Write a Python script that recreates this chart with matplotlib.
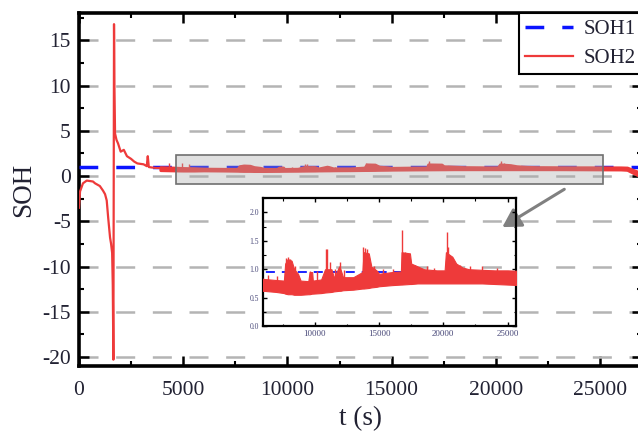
import matplotlib
matplotlib.use("Agg")
import matplotlib.pyplot as plt
from matplotlib.patches import Rectangle
from matplotlib.ticker import MultipleLocator

plt.rcParams['font.family'] = ['Liberation Serif', 'DejaVu Serif']
plt.rcParams['axes.unicode_minus'] = False
plt.rcParams['lines.scale_dashes'] = False

# ---------------- data ----------------
# SOH1: constant reference
soh1_t = [0, 26800]
soh1_v = [0.96, 0.96]

# SOH2 early transient (line)
early_t = [0, 50, 190, 370, 530, 670, 770, 1000, 1150, 1250, 1330, 1400, 1490, 1540, 1590,
           1620, 1650, 1680, 1700, 1730, 1800, 1875, 2000, 2150, 2300, 2500, 2650, 2800, 3100,
           3250, 3300, 3350, 3500, 3700, 3900]
early_v = [-3.5, -1.7, -0.8, -0.5, -0.55, -0.6, -0.8, -1.1, -1.6, -2.0, -2.7, -4.6, -6.8, -7.5, -8.5,
           -12.0, -20.3, 16.8, 10.0, 4.7, 4.0, 3.6, 2.7, 2.9, 2.2, 1.9, 1.6, 1.4, 1.3,
           1.1, 2.2, 1.0, 0.95, 0.9, 0.9]

# SOH2 noisy band (lower / upper envelopes)
band_t = [3900, 4500, 5000, 5500, 6000, 7000, 7600, 7700, 7900, 8200, 8400, 8700, 8900,
          9500, 9600, 9800, 9850, 10500, 10800, 11300, 11500, 11900, 12000, 12200, 13000,
          13700, 13800, 14200, 14400, 14800, 15000, 16000, 16700, 16750, 17400, 17500,
          18000, 18500, 19500, 20100, 20200, 20700, 21000, 21500, 22000, 23000, 24000,
          25000, 26000, 26300, 26800]
band_lo = [0.65, 0.62, 0.6, 0.6, 0.62, 0.6, 0.58, 0.57, 0.56, 0.56, 0.55, 0.55, 0.55,
           0.56, 0.56, 0.57, 0.57, 0.58, 0.59, 0.6, 0.61, 0.62, 0.62, 0.63, 0.64,
           0.66, 0.66, 0.67, 0.68, 0.69, 0.7, 0.72, 0.73, 0.73, 0.74, 0.74,
           0.75, 0.75, 0.75, 0.75, 0.75, 0.75, 0.75, 0.75, 0.75, 0.75, 0.74,
           0.73, 0.72, 0.68, 0.1]
band_hi = [1.0, 0.95, 0.9, 0.88, 0.83, 0.81, 0.8, 1.1, 1.18, 1.15, 1.0, 0.92, 0.8,
           0.79, 0.95, 0.95, 0.8, 0.82, 1.0, 1.0, 0.85, 1.05, 1.0, 0.86, 0.86,
           0.95, 1.3, 1.28, 1.05, 0.98, 0.92, 0.95, 0.96, 1.3, 1.28, 1.1,
           1.05, 1.0, 0.98, 0.98, 1.3, 1.22, 1.1, 1.03, 1.0, 0.99, 0.98,
           0.98, 0.97, 0.95, 0.5]

# SOH2 sharp spikes
spike_t = [4300, 4950, 5300, 6400, 7100, 7750, 7950, 8100, 8500, 9650, 10200, 10850, 10950,
           11200, 11600, 11950, 12300, 13750, 13900, 14050, 14600, 15300, 16100, 16800,
           17000, 17800, 18700, 19300, 20250, 20400, 21300, 22100, 23000, 24200]
spike_top = [1.4, 1.5, 1.3, 0.9, 0.88, 1.2, 1.22, 1.18, 1.05, 0.97, 0.97, 1.35, 1.35,
             1.13, 1.0, 1.12, 0.98, 1.4, 1.38, 1.35, 1.05, 1.0, 1.0, 1.7,
             1.3, 1.08, 1.05, 1.03, 1.65, 1.4, 1.08, 1.05, 1.05, 1.02]
spike_base = [0.8] * len(spike_t)

x_ticks = [0, 5000, 10000, 15000, 20000, 25000]
y_ticks = [-20, -15, -10, -5, 0, 5, 10, 15]
inset_x_ticks = [10000, 15000, 20000, 25000]
inset_y_ticks = [0.0, 0.5, 1.0, 1.5, 2.0]

RED = '#ee3a3a'
BLUE = '#0a14ff'
GRAY = '#b4b4b4'
TXT = '#222233'

# ---------------- figure ----------------
fig = plt.figure(figsize=(6.38, 4.37), dpi=100)
ax = fig.add_axes([79 / 638, 71 / 437, (641.7 - 79) / 638, (366 - 13.3) / 437])

ax.plot(soh1_t, soh1_v, color=BLUE, lw=2.5, linestyle=(0, (13.5, 13)), zorder=3, label='SOH1')
ax.plot(early_t, early_v, color=RED, lw=1.6, zorder=4, label='SOH2')
ax.fill_between(band_t, band_lo, band_hi, color=RED, lw=2.0, edgecolor=RED, zorder=4)
ax.vlines(spike_t, spike_base, spike_top, color=RED, lw=1.0, zorder=4)

ax.set_xlim(0, 27000)
ax.set_ylim(-21, 18)
ax.set_xticks(x_ticks)
ax.set_yticks(y_ticks)
ax.set_xticklabels([str(v) for v in x_ticks])
ax.set_yticklabels([str(v) for v in y_ticks])
ax.xaxis.set_minor_locator(MultipleLocator(2500))
ax.yaxis.set_minor_locator(MultipleLocator(2.5))
ax.tick_params(which='both', direction='in', top=True, right=True)
ax.tick_params(which='major', length=7, width=1.8, labelsize=15.5, labelcolor=TXT)
ax.tick_params(axis='y', which='major', pad=6)
ax.tick_params(axis='x', which='major', pad=11)
ax.tick_params(which='minor', length=3.5, width=1.5)
for s in ax.spines.values():
    s.set_linewidth(2.6)

ax.yaxis.grid(True, color=GRAY, lw=1.8, linestyle=(0, (13.7, 12.7)))
ax.set_axisbelow(True)

ax.set_xlabel('t (s)', fontsize=19.5, color=TXT, labelpad=4)
ax.set_ylabel('SOH', fontsize=19.5, color=TXT, labelpad=4)

# zoom rectangle
ax.add_patch(Rectangle((4650, -0.9), 25150 - 4650, 2.3 + 0.9, facecolor='#a8a8a8',
                       alpha=0.35, edgecolor='none', zorder=6))
ax.add_patch(Rectangle((4650, -0.9), 25150 - 4650, 2.3 + 0.9, facecolor='none',
                       edgecolor='#707070', lw=1.2, zorder=6))

ax.annotate('', xy=(20200, -5.8), xytext=(23400, -1.3),
            arrowprops=dict(arrowstyle='-|>,head_length=0.55,head_width=0.32',
                            color='#808080', lw=2.2, mutation_scale=20), zorder=7)

leg = ax.legend(loc='upper right', fontsize=15, frameon=True, fancybox=False,
                framealpha=1, edgecolor='black', borderaxespad=0, borderpad=0.3,
                handlelength=2.3, handletextpad=0.5, labelspacing=0.45)
leg.get_frame().set_linewidth(1.5)
for t in leg.get_texts():
    t.set_color(TXT)

# ---------------- inset ----------------
axi = fig.add_axes([263.3 / 638, (437 - 326) / 437, (516 - 263.3) / 638, (326 - 198.3) / 437])
axi.set_facecolor('none')
axi.plot(soh1_t, soh1_v, color=BLUE, lw=1.3, linestyle=(0, (6.5, 5)), zorder=3)
axi.fill_between(band_t, band_lo, band_hi, color=RED, lw=0.8, edgecolor=RED, zorder=4)
axi.vlines(spike_t, spike_base, spike_top, color=RED, lw=1.0, zorder=4)
axi.set_xlim(6000, 25650)
axi.set_ylim(0, 2.25)
axi.set_xticks(inset_x_ticks)
axi.set_yticks(inset_y_ticks)
axi.set_xticklabels([str(v) for v in inset_x_ticks])
axi.set_yticklabels(['%.1f' % v for v in inset_y_ticks])
axi.xaxis.set_minor_locator(MultipleLocator(2500))
axi.yaxis.set_minor_locator(MultipleLocator(0.25))
axi.tick_params(which='both', direction='in', top=True, right=True)
axi.tick_params(which='major', length=3, width=1.0, pad=3, labelcolor='#4a4a7a')
axi.tick_params(axis='x', which='major', labelsize=6.5)
axi.tick_params(axis='y', which='major', labelsize=5.5)
axi.tick_params(which='minor', length=1.8, width=0.8)
for s in axi.spines.values():
    s.set_linewidth(1.6)

fig.savefig('out.png', dpi=100)
